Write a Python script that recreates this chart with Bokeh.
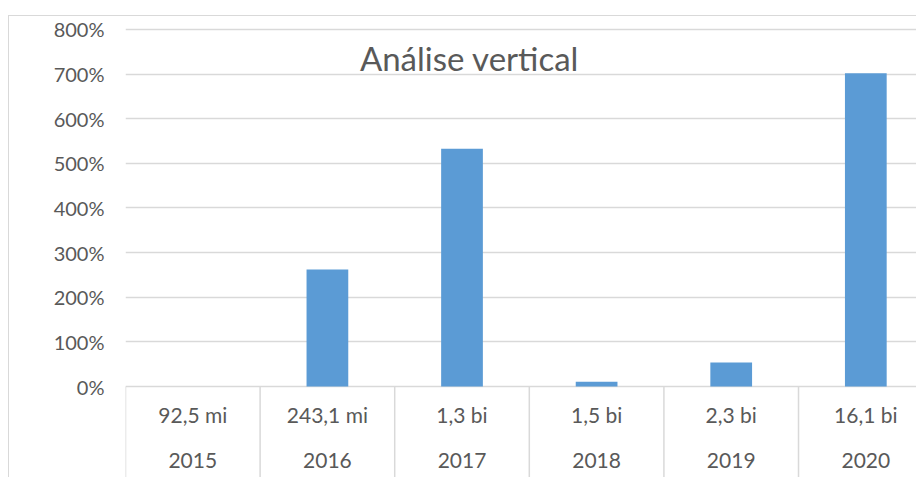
from bokeh.plotting import figure
from bokeh.models import Range1d, FixedTicker, PrintfTickFormatter, ColumnDataSource
from bokeh.core.properties import value
from bokeh.embed import file_html
from bokeh.resources import INLINE

# ---- data ----
years = ["2015", "2016", "2017", "2018", "2019", "2020"]
amounts = ["92,5 mi", "243,1 mi", "1,3 bi", "1,5 bi", "2,3 bi", "16,1 bi"]
pct_values = [0, 262, 533, 11, 54, 702]
y_ticks = [0, 100, 200, 300, 400, 500, 600, 700, 800]
title_text = "Análise vertical"

FONT = "Lato"
GREY = "#595959"
GRID = "#d9d9d9"
BAR = "#5B9BD5"

idx = list(range(len(years)))
centers = [i + 0.5 for i in idx]
bounds = list(range(len(years) + 1))

y_start, y_end = -206, 829
x_end = 5.884

p = figure(width=908, height=462, output_backend="svg", toolbar_location=None,
           x_range=Range1d(0, x_end), y_range=Range1d(y_start, y_end),
           x_axis_location=None, min_border_left=116, min_border_right=0,
           min_border_top=0, min_border_bottom=0)
p.styles = {"margin-top": "15px", "margin-left": "8px",
            "border-top": "1px solid #d9d9d9", "border-left": "1px solid #d9d9d9"}
p.outline_line_color = None
p.background_fill_color = "white"
p.border_fill_color = "white"

# y axis
ax = p.yaxis[0]
ax.ticker = FixedTicker(ticks=y_ticks)
ax.formatter = PrintfTickFormatter(format="%d%%")
ax.axis_line_color = None
ax.major_tick_line_color = None
ax.minor_tick_line_color = None
ax.major_tick_out = 0
ax.major_tick_in = 0
ax.major_label_standoff = 21
ax.major_label_text_font = FONT
ax.major_label_text_font_size = "20px"
ax.major_label_text_color = GREY

p.xgrid.visible = False
p.ygrid.ticker = FixedTicker(ticks=y_ticks)
p.ygrid.grid_line_color = GRID
p.ygrid.grid_line_width = 1.5

# bars
src = ColumnDataSource(dict(x=centers, top=pct_values, year=years, amt=amounts))
p.vbar(x="x", top="top", bottom=0, width=0.31, source=src,
       fill_color=BAR, line_color=None)

# category separators
p.segment(x0=bounds, y0=[0] * len(bounds), x1=bounds, y1=[y_start] * len(bounds),
          line_color=GRID, line_width=1.5)

# category labels (two rows)
p.text(x="x", y=-63, text="amt", source=src, text_align="center",
       text_baseline="middle", text_font=value(FONT), text_font_size="21px",
       text_color=GREY)
p.text(x="x", y=-166, text="year", source=src, text_align="center",
       text_baseline="middle", text_font=value(FONT), text_font_size="21px",
       text_color=GREY)

# title
p.text(x=[2.556], y=[737], text=[title_text], text_align="center",
       text_baseline="middle", text_font=value(FONT), text_font_size="33px",
       text_color=GREY)

open("out.html", "w").write(file_html(p, INLINE))
